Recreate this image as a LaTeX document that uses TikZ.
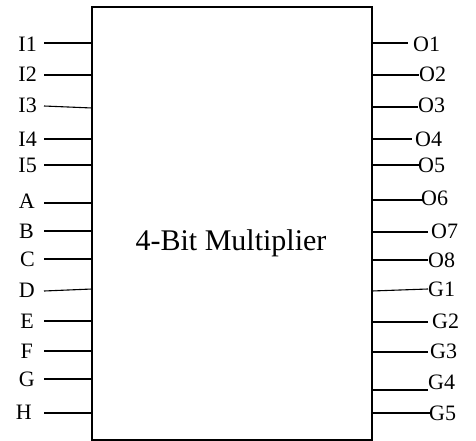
\documentclass[tikz,border=0pt]{standalone}
\usepackage{fontspec}
\setmainfont{Liberation Serif}
\begin{document}
\begin{tikzpicture}[x=1pt,y=-1pt,
  lbl/.style={inner sep=0pt,font=\fontsize{22}{22}\selectfont},
  pin/.style={line width=1.1pt},
  title/.style={inner sep=0pt,font=\fontsize{30}{30}\selectfont}]
\useasboundingbox (0,0) rectangle (476,441);
\node[draw,line width=1.5pt,minimum width=280pt,minimum height=433pt,inner sep=0pt] (box) at (232,223.5) {};
\node[title] (t) at (231,243) {4-Bit Multiplier};
% left labels
\node[lbl,anchor=east] (I1) at (37,44) {I1};
\node[lbl,anchor=east] (I2) at (37,74) {I2};
\node[lbl,anchor=east] (I3) at (37,105) {I3};
\node[lbl,anchor=east] (I4) at (37,139) {I4};
\node[lbl,anchor=east] (I5) at (37,165) {I5};
\node[lbl,anchor=east] (A) at (35,201) {A};
\node[lbl,anchor=east] (B) at (34,231) {B};
\node[lbl,anchor=east] (C) at (35,259) {C};
\node[lbl,anchor=east] (D) at (35,290) {D};
\node[lbl,anchor=east] (E) at (34,321) {E};
\node[lbl,anchor=east] (F) at (33,351) {F};
\node[lbl,anchor=east] (G) at (35,379) {G};
\node[lbl,anchor=east] (H) at (32,412) {H};
% left pin ends
\coordinate (a1) at (44,43); \coordinate (b1) at (92,43);
\coordinate (a2) at (44,75); \coordinate (b2) at (92,75);
\coordinate (a3) at (44,106); \coordinate (b3) at (92,108);
\coordinate (a4) at (44,139); \coordinate (b4) at (92,139);
\coordinate (a5) at (44,165); \coordinate (b5) at (92,165);
\coordinate (a6) at (44,203); \coordinate (b6) at (92,203);
\coordinate (a7) at (44,231); \coordinate (b7) at (92,231);
\coordinate (a8) at (44,259); \coordinate (b8) at (92,259);
\coordinate (a9) at (44,291); \coordinate (b9) at (92,289);
\coordinate (a10) at (44,321); \coordinate (b10) at (92,321);
\coordinate (a11) at (44,351); \coordinate (b11) at (92,351);
\coordinate (a12) at (44,379); \coordinate (b12) at (92,379);
\coordinate (a13) at (44,413); \coordinate (b13) at (92,413);
\foreach \i in {1,...,13} \draw[pin] (a\i) -- (b\i);
% right labels
\node[lbl,anchor=west] (O1) at (413,44) {O1};
\node[lbl,anchor=west] (O2) at (419,74) {O2};
\node[lbl,anchor=west] (O3) at (418,105) {O3};
\node[lbl,anchor=west] (O4) at (415,139) {O4};
\node[lbl,anchor=west] (O5) at (418,165) {O5};
\node[lbl,anchor=west] (O6) at (421,198) {O6};
\node[lbl,anchor=west] (O7) at (431,231) {O7};
\node[lbl,anchor=west] (O8) at (428,260) {O8};
\node[lbl,anchor=west] (G1) at (428,289) {G1};
\node[lbl,anchor=west] (G2) at (432,321) {G2};
\node[lbl,anchor=west] (G3) at (430,351) {G3};
\node[lbl,anchor=west] (G4) at (428,382) {G4};
\node[lbl,anchor=west] (G5) at (429,413) {G5};
% right pin ends
\coordinate (c1) at (372,43); \coordinate (d1) at (408,43);
\coordinate (c2) at (372,75); \coordinate (d2) at (419,75);
\coordinate (c3) at (372,107); \coordinate (d3) at (418,107);
\coordinate (c4) at (372,139); \coordinate (d4) at (412,139);
\coordinate (c5) at (372,165); \coordinate (d5) at (420,165);
\coordinate (c6) at (372,200); \coordinate (d6) at (423,200);
\coordinate (c7) at (372,232); \coordinate (d7) at (428,232);
\coordinate (c8) at (372,260); \coordinate (d8) at (428,260);
\coordinate (c9) at (372,291); \coordinate (d9) at (428,289);
\coordinate (c10) at (372,322); \coordinate (d10) at (428,322);
\coordinate (c11) at (372,352); \coordinate (d11) at (428,352);
\coordinate (c12) at (372,390); \coordinate (d12) at (428,390);
\coordinate (c13) at (372,413); \coordinate (d13) at (430,413);
\foreach \i in {1,...,13} \draw[pin] (c\i) -- (d\i);
\end{tikzpicture}
\end{document}
